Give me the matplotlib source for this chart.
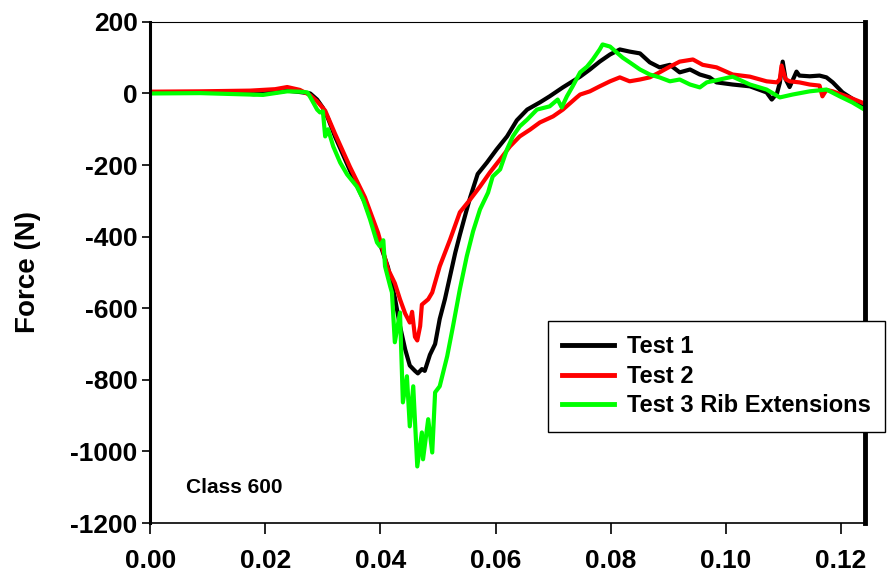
import matplotlib
matplotlib.use("Agg")
import matplotlib.pyplot as plt
from matplotlib.ticker import FormatStrFormatter

plt.rcParams['font.family'] = ['Liberation Sans', 'DejaVu Sans']
plt.rcParams['font.weight'] = 'bold'
plt.rcParams['axes.unicode_minus'] = False

# ---- data (time in s, force in N) ----
t1_x = [0, 0.0087, 0.0150, 0.0180, 0.0217, 0.0238, 0.0260, 0.0278, 0.0290, 0.0300,
        0.0309, 0.0321, 0.0347, 0.0373, 0.0396, 0.0413, 0.0425, 0.0434, 0.0443, 0.0451,
        0.0460, 0.0465, 0.0472, 0.0477, 0.0486, 0.0495, 0.0503, 0.0512, 0.0521, 0.0530,
        0.0538, 0.0549, 0.0556, 0.0569, 0.0585, 0.0602, 0.0620, 0.0637, 0.0655, 0.0677,
        0.0694, 0.0717, 0.0734, 0.0747, 0.0764, 0.0781, 0.0799, 0.0816, 0.0833, 0.0851,
        0.0868, 0.0885, 0.0903, 0.0920, 0.0938, 0.0955, 0.0972, 0.0984, 0.1012, 0.1042,
        0.1071, 0.1080, 0.1089, 0.1094, 0.1099, 0.1104, 0.1111, 0.1123, 0.1128, 0.1146,
        0.1163, 0.1175, 0.1186, 0.1203, 0.1227, 0.1241]
t1_y = [2, 3, 2, -2, 3, 8, 4, 0, -17, -40,
        -70, -120, -215, -305, -405, -485, -570, -650, -715, -760,
        -775, -782, -770, -775, -730, -700, -630, -575, -510, -445,
        -395, -330, -290, -225, -193, -156, -120, -75, -45, -25,
        -8, 17, 34, 47, 67, 89, 109, 123, 117, 112,
        87, 73, 80, 59, 67, 53, 45, 31, 25, 20,
        3, -17, 0, 30, 89, 40, 18, 61, 50, 48,
        50, 45, 31, 3, -22, -36]

t2_x = [0, 0.0087, 0.0174, 0.0217, 0.0238, 0.0260, 0.0278, 0.0290, 0.0304, 0.0321,
        0.0347, 0.0373, 0.0396, 0.0413, 0.0425, 0.0434, 0.0443, 0.0451, 0.0455, 0.0460,
        0.0464, 0.0469, 0.0472, 0.0483, 0.0490, 0.0503, 0.0521, 0.0538, 0.0556, 0.0573,
        0.0590, 0.0608, 0.0625, 0.0642, 0.0660, 0.0677, 0.0700, 0.0717, 0.0741, 0.0747,
        0.0764, 0.0781, 0.0799, 0.0816, 0.0833, 0.0851, 0.0868, 0.0885, 0.0903, 0.0920,
        0.0943, 0.0960, 0.0984, 0.1012, 0.1042, 0.1071, 0.1089, 0.1094, 0.1097, 0.1104,
        0.1111, 0.1128, 0.1146, 0.1163, 0.1168, 0.1175, 0.1186, 0.1215, 0.1241]
t2_y = [5, 6, 8, 12, 18, 10, -5, -22, -48, -112,
        -205, -290, -390, -490, -530, -575, -615, -640, -610, -680,
        -690, -650, -590, -575, -556, -483, -408, -332, -296, -260,
        -221, -184, -148, -120, -101, -81, -64, -45, -11, -3,
        6, 20, 34, 45, 34, 39, 45, 59, 75, 89,
        95, 80, 73, 53, 47, 34, 31, 40, 78, 40,
        34, 31, 25, 22, -8, 10, 6, -11, -28]

t3_x = [0, 0.0087, 0.0174, 0.0196, 0.0238, 0.0260, 0.0273, 0.0278, 0.0290, 0.0295,
        0.0300, 0.0304, 0.0309, 0.0318, 0.0330, 0.0342, 0.0359, 0.0370, 0.0382, 0.0394,
        0.0399, 0.0405, 0.0408, 0.0417, 0.0420, 0.0425, 0.0434, 0.0439, 0.0446, 0.0451,
        0.0457, 0.0464, 0.0472, 0.0474, 0.0483, 0.0490, 0.0495, 0.0503, 0.0516, 0.0526,
        0.0538, 0.0550, 0.0561, 0.0573, 0.0587, 0.0595, 0.0608, 0.0620, 0.0630, 0.0642,
        0.0655, 0.0672, 0.0694, 0.0708, 0.0715, 0.0724, 0.0734, 0.0747, 0.0759, 0.0769,
        0.0781, 0.0786, 0.0799, 0.0811, 0.0821, 0.0833, 0.0851, 0.0868, 0.0885, 0.0903,
        0.0920, 0.0938, 0.0955, 0.0967, 0.0984, 0.1012, 0.1042, 0.1071, 0.1094, 0.1116,
        0.1146, 0.1175, 0.1198, 0.1220, 0.1241]
t3_y = [0, 1, -3, -4, 6, 5, 3, -10, -45, -53,
        -50, -120, -100, -148, -193, -226, -260, -296, -352, -416,
        -427, -410, -483, -539, -556, -695, -612, -863, -790, -930,
        -818, -1042, -947, -1022, -910, -1003, -835, -818, -734, -651,
        -547, -455, -385, -324, -277, -232, -212, -156, -120, -92,
        -73, -45, -36, -17, -39, -8, 20, 59, 75, 95,
        123, 137, 131, 114, 100, 87, 67, 53, 45, 34,
        39, 25, 17, 31, 37, 47, 25, 11, -11, -3,
        6, 11, -8, -25, -45]

labels = ["Test 1", "Test 2", "Test 3 Rib Extensions"]
colors = ["#000000", "#ff0000", "#00ff00"]
xticks = [0.00, 0.02, 0.04, 0.06, 0.08, 0.10, 0.12]
yticks = [200, 0, -200, -400, -600, -800, -1000, -1200]

fig = plt.figure(figsize=(8.89, 5.76), dpi=100)
ax = fig.add_axes([0.169, 0.092, 0.804, 0.870])

for xs, ys, lab, c in zip([t1_x, t2_x, t3_x], [t1_y, t2_y, t3_y], labels, colors):
    ax.plot(xs, ys, color=c, lw=3.0, label=lab, solid_joinstyle='round')

ax.set_xlim(0, 0.1242)
ax.set_ylim(-1200, 200)
ax.set_xticks(xticks)
ax.set_yticks(yticks)
ax.xaxis.set_major_formatter(FormatStrFormatter('%.2f'))
ax.tick_params(axis='both', labelsize=19, direction='out', width=1.2, color='black')
ax.tick_params(axis='x', length=8, pad=11)
ax.tick_params(axis='y', length=6, pad=3)
for lbl in ax.get_xticklabels() + ax.get_yticklabels():
    lbl.set_fontweight('bold')

ax.set_ylabel("Force (N)", fontsize=20, fontweight='bold', labelpad=21)

ax.spines['left'].set_linewidth(2.2)
ax.spines['right'].set_linewidth(3.5)
ax.spines['top'].set_linewidth(0.8)
ax.spines['bottom'].set_linewidth(1.2)
for s in ax.spines.values():
    s.set_color('black')

ax.text(0.0063, -1100, "Class 600", fontsize=15, fontweight='bold',
        ha='left', va='center')

leg = fig.legend(loc='upper left', bbox_to_anchor=(548 / 889, 1 - 321 / 576),
                 borderaxespad=0, frameon=True, fancybox=False, framealpha=1,
                 edgecolor='black', handlelength=2.2, handletextpad=0.55,
                 borderpad=0.6, labelspacing=0.28, prop={'weight': 'bold', 'size': 17})
leg.get_frame().set_linewidth(1.0)
for line in leg.get_lines():
    line.set_linewidth(3.5)

fig.savefig("out.png", dpi=100)
